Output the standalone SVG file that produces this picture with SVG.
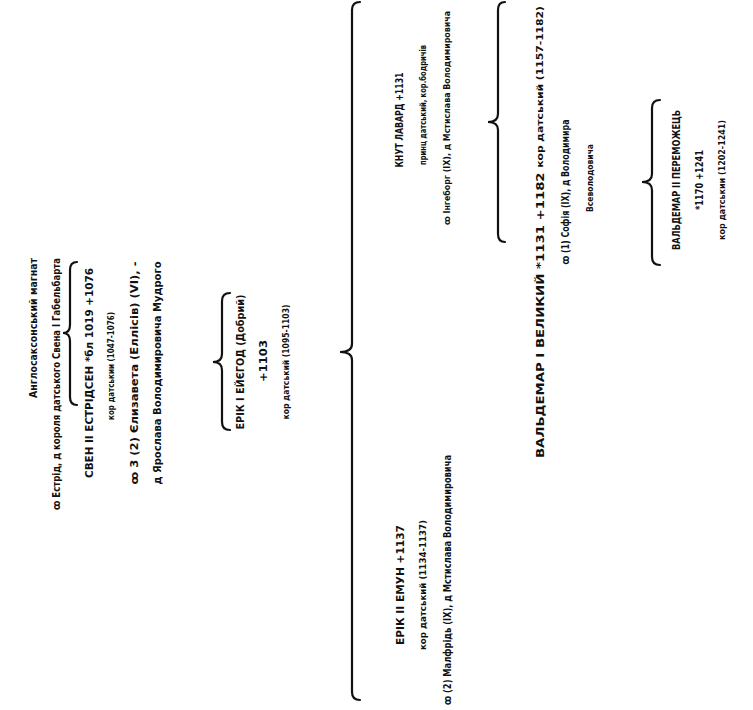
<svg xmlns="http://www.w3.org/2000/svg" width="753" height="710" viewBox="0 0 753 710">
<style>
text{font-family:"DejaVu Sans Condensed","DejaVu Sans","Liberation Sans",sans-serif;font-weight:bold;fill:#111;text-anchor:middle;dominant-baseline:central}
.c{font-size:10.5px}
.m{font-size:8.5px}
.s{font-size:8.5px}
.b{fill:none;stroke:#111;stroke-width:2.2;stroke-linecap:round}
</style>
<rect width="753" height="710" fill="#fff"/>
<g id="connectors">
<path class="b" d="M77,262 Q70,262 70,270 L70,325 Q70,333 63,333 Q70,333 70,341 L70,397 Q70,405 77,405"/>
<path class="b" d="M230,293 Q222,293 222,301 L222,354 Q222,362 213,362 Q222,362 222,370 L222,422 Q222,430 230,430"/>
<path class="b" d="M360,2 Q352,2 352,10 L352,344 Q352,352 340,352 Q352,352 352,360 L352,692 Q352,700 360,700"/>
<path class="b" d="M505,2 Q498,2 498,10 L498,114 Q498,122 488,122 Q498,122 498,130 L498,234 Q498,242 505,242"/>
<path class="b" d="M660,100 Q652,100 652,108 L652,174 Q652,182 642,182 Q652,182 652,190 L652,257 Q652,265 660,265"/>
</g>
<g id="node-anglo">
<text class="c" transform="translate(33,328) rotate(-90)" textLength="140" lengthAdjust="spacingAndGlyphs">Англосаксонський магнат</text>
<text class="c" transform="translate(56,384) rotate(-90)" textLength="252" lengthAdjust="spacingAndGlyphs">ꝏ Естрід, д короля датського Свена I Габельбарта</text>
</g>
<g id="node-sven">
<text class="c" transform="translate(89,373) rotate(-90)" textLength="210" lengthAdjust="spacingAndGlyphs">СВЕН II  ЕСТРІДСЕН  *бл 1019 +1076</text>
<text class="s" transform="translate(111,366) rotate(-90)" textLength="108" lengthAdjust="spacingAndGlyphs">кор датськии (1047-1076)</text>
<text class="c" transform="translate(134,373) rotate(-90)" textLength="223" lengthAdjust="spacingAndGlyphs">ꝏ 3 (2) Єлизавета (Еллісів) (VI), -</text>
<text class="c" transform="translate(157,373) rotate(-90)" textLength="223" lengthAdjust="spacingAndGlyphs">д Ярослава  Володимировича  Мудрого</text>
</g>
<g id="node-erik1">
<text class="c" transform="translate(240,362) rotate(-90)" textLength="135" lengthAdjust="spacingAndGlyphs">ЕРІК I ЕЙЄГОД (Добрий)</text>
<text class="c" transform="translate(263,361) rotate(-90)" textLength="42" lengthAdjust="spacingAndGlyphs">+1103</text>
<text class="s" transform="translate(286,362) rotate(-90)" textLength="115" lengthAdjust="spacingAndGlyphs">кор датський (1095-1103)</text>
</g>
<g id="node-erik2">
<text class="c" transform="translate(400,585) rotate(-90)" textLength="120" lengthAdjust="spacingAndGlyphs">ЕРІК II  ЕМУН +1137</text>
<text class="s" transform="translate(423,585) rotate(-90)" textLength="130" lengthAdjust="spacingAndGlyphs">кор датський (1134-1137)</text>
<text class="c" transform="translate(447,580) rotate(-90)" textLength="250" lengthAdjust="spacingAndGlyphs">ꝏ (2) Малфрідь (IX), д Мстислава Володимировича</text>
</g>
<g id="node-knut">
<text class="c" transform="translate(399,120) rotate(-90)" textLength="95" lengthAdjust="spacingAndGlyphs">КНУТ ЛАВАРД +1131</text>
<text class="s" transform="translate(423,105) rotate(-90)" textLength="120" lengthAdjust="spacingAndGlyphs">принц датський, кор.бодричів</text>
<text class="m" transform="translate(447,118) rotate(-90)" textLength="214" lengthAdjust="spacingAndGlyphs">ꝏ Інгеборг (IX), д Мстислава Володимировича</text>
</g>
<g id="node-valdemar1">
<text class="c" transform="translate(540,232) rotate(-90)" textLength="452" lengthAdjust="spacingAndGlyphs">ВАЛЬДЕМАР I ВЕЛИКИЙ *1131 +1182 <tspan class="s">кор датський (1157-1182)</tspan></text>
<text class="c" transform="translate(565,192) rotate(-90)" textLength="145" lengthAdjust="spacingAndGlyphs">ꝏ (1) Софія (IX), д Володимира</text>
<text class="s" transform="translate(590,178) rotate(-90)" textLength="68" lengthAdjust="spacingAndGlyphs">Всеволодовича</text>
</g>
<g id="node-valdemar2">
<text class="c" transform="translate(676,180) rotate(-90)" textLength="140" lengthAdjust="spacingAndGlyphs">ВАЛЬДЕМАР II ПЕРЕМОЖЕЦЬ</text>
<text class="c" transform="translate(699,180) rotate(-90)" textLength="60" lengthAdjust="spacingAndGlyphs">*1170  +1241</text>
<text class="s" transform="translate(722,180) rotate(-90)" textLength="120" lengthAdjust="spacingAndGlyphs">кор датськии (1202-1241)</text>
</g>
</svg>
